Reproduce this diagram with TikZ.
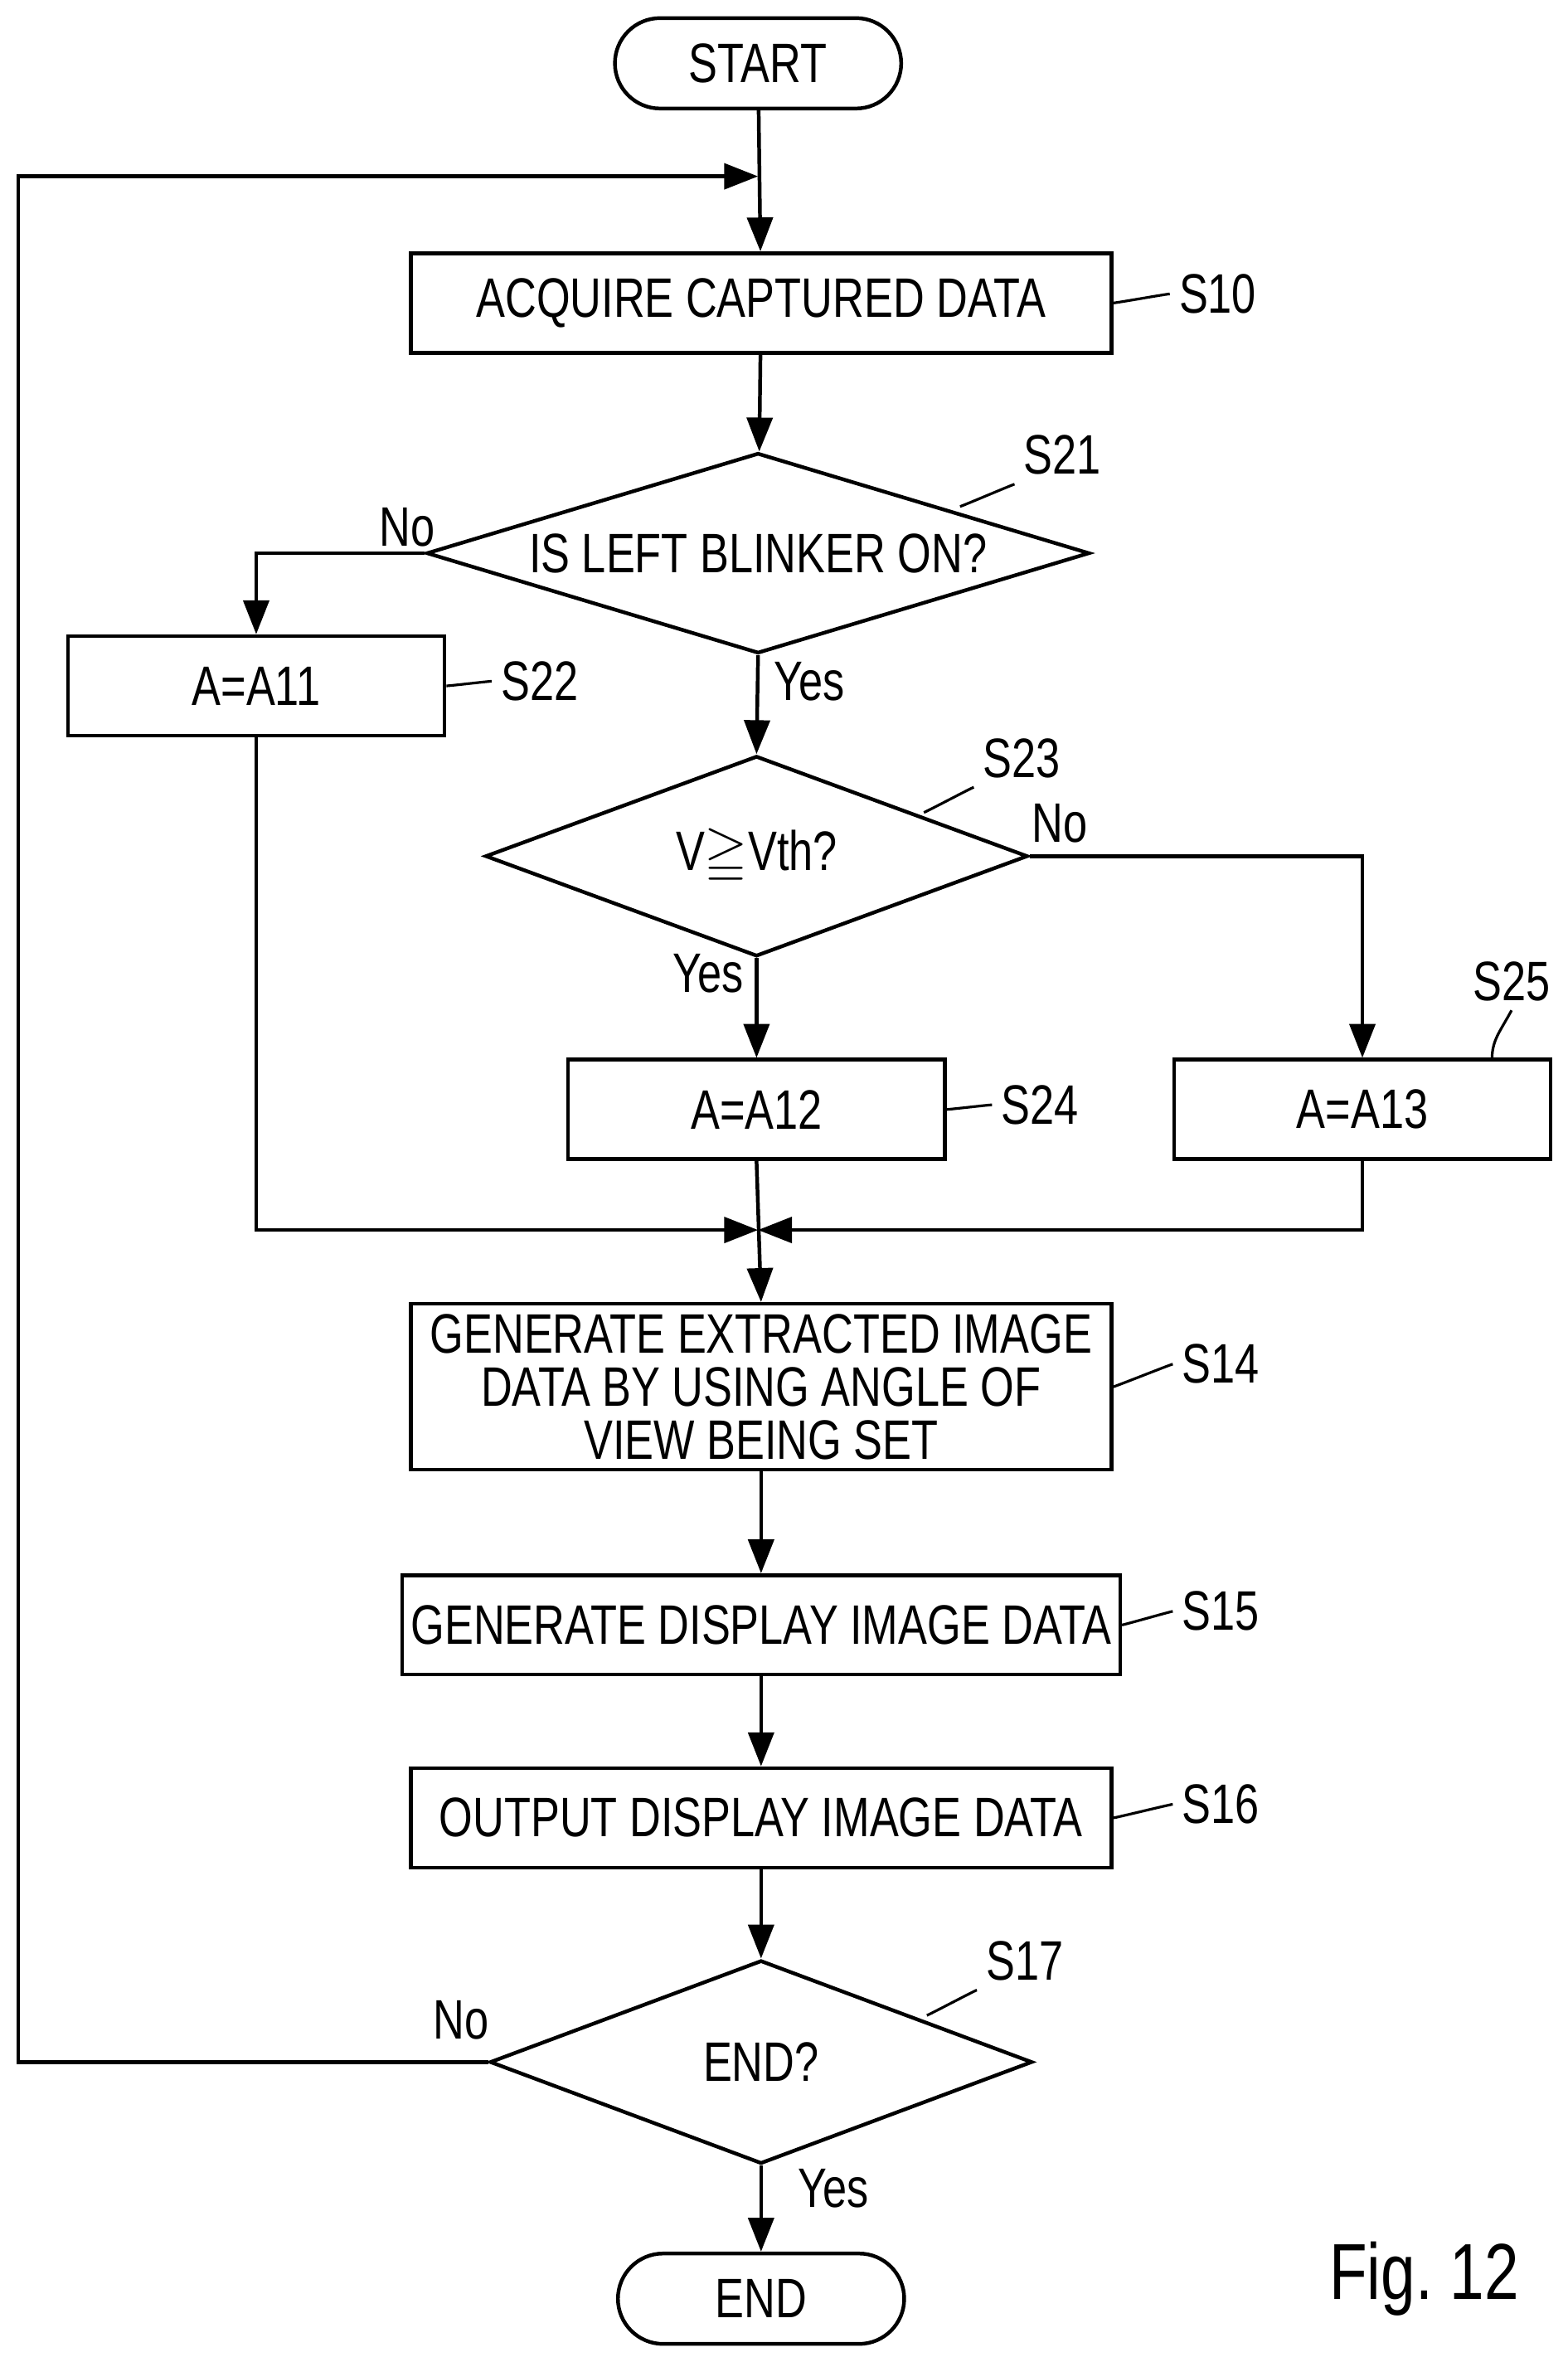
\documentclass[tikz,border=0pt]{standalone}
\usepackage{amssymb}
\usepackage{fontspec}
\setmainfont{Liberation Sans}[FakeStretch=0.78]
\usetikzlibrary{shapes.geometric,arrows.meta}
\tikzset{
  every node/.style={font=\fontsize{21}{25}\selectfont},
  box/.style={draw, line width=1.4pt, minimum height=1.32cm, align=center},
  term/.style={draw, line width=1.4pt, rounded corners=0.6cm, minimum width=3.8cm, minimum height=1.2cm},
  dec/.style={draw, line width=1.4pt, diamond, aspect=3.3, inner sep=0pt},
  flow/.style={line width=1.4pt, -{Triangle[length=0.45cm,width=0.34cm]}},
  line/.style={line width=1.4pt},
  tag/.style={line width=1pt}
}
\newcommand{\wig}[2]{\draw[tag] #1 .. controls +(0.35,0.25) and +(-0.35,-0.25) .. #2;}
\begin{document}
\begin{tikzpicture}[x=0.02cm,y=-0.02cm]
  \useasboundingbox (0,0) rectangle (1040,1567);

  \node[term] (start) at (503,42) {START};
  \node[box, minimum width=9.3cm] (s10) at (505,201) {ACQUIRE CAPTURED DATA};
  \node[dec, minimum width=8.8cm, minimum height=2.66cm] (s21) at (503,367) {IS LEFT BLINKER ON?};
  \node[box, minimum width=5cm] (s22) at (170,455) {A=A11};
  \node[dec, minimum width=7.2cm, minimum height=2.66cm] (s23) at (502,568) {V$\geqq$Vth?};
  \node[box, minimum width=5cm] (s24) at (502,736) {A=A12};
  \node[box, minimum width=5cm] (s25) at (904,736) {A=A13};
  \coordinate (merge) at (503,816);
  \node[box, minimum width=9.3cm, minimum height=2.2cm, inner sep=2pt] (s14) at (505,920)
    {GENERATE EXTRACTED IMAGE\\[-5pt]DATA BY USING ANGLE OF\\[-5pt]VIEW BEING SET};
  \node[box, minimum width=9.3cm] (s15) at (505,1078) {GENERATE DISPLAY IMAGE DATA};
  \node[box, minimum width=9.3cm] (s16) at (505,1206) {OUTPUT DISPLAY IMAGE DATA};
  \node[dec, minimum width=7.2cm, minimum height=2.7cm] (s17) at (505,1368) {END?};
  \node[term] (end) at (505,1525) {END};
  \coordinate (loop) at (503,117);

  % step tags
  \node (t10) at (808,195) {S10};   \wig{(s10.east)}{(t10.west)}
  \node (t21) at (705,302) {S21};   \wig{(637,336)}{(t21.south west)}
  \node (t22) at (358,452) {S22};   \wig{(s22.east)}{(t22.west)}
  \node (t23) at (678,503) {S23};   \wig{(613,539)}{(t23.south west)}
  \node (t24) at (690,733) {S24};   \wig{(s24.east)}{(t24.west)}
  \node (t25) at (1003,651) {S25};  \draw[tag] (990,703) .. controls (990,690) and (995,685) .. (t25.south);
  \node (t14) at (810,905) {S14};   \wig{(s14.east)}{(t14.west)}
  \node (t15) at (810,1069) {S15};  \wig{(s15.east)}{(t15.west)}
  \node (t16) at (810,1197) {S16};  \wig{(s16.east)}{(t16.west)}
  \node (t17) at (680,1301) {S17};  \wig{(615,1337)}{(t17.south west)}

  % connectors
  \draw[flow] (start) -- (s10);
  \draw[flow] (s10) -- (s21);
  \draw[flow] (s21.west) -| (s22.north);
  \node at (270,350) {No};
  \draw[flow] (s21.south) -- (s23.north);
  \node at (537,452) {Yes};
  \draw[flow] (s23.east) -| (s25.north);
  \node at (703,546) {No};
  \draw[flow] (s23.south) -- (s24.north);
  \node at (470,646) {Yes};
  \draw[flow] (s22.south) |- (merge);
  \draw[flow] (s25.south) |- (merge);
  \draw[flow] (s24.south) -- (s14.north);
  \draw[flow] (s14) -- (s15);
  \draw[flow] (s15) -- (s16);
  \draw[flow] (s16) -- (s17);
  \draw[flow] (s17) -- (end);
  \node at (553,1452) {Yes};
  \draw[flow] (s17.west) -- (12,1368) -- (12,117) -- (loop);
  \node at (306,1340) {No};

  \node[font=\fontsize{30}{34}\selectfont] (fig) at (945,1512) {Fig.\ 12};
\end{tikzpicture}
\end{document}
